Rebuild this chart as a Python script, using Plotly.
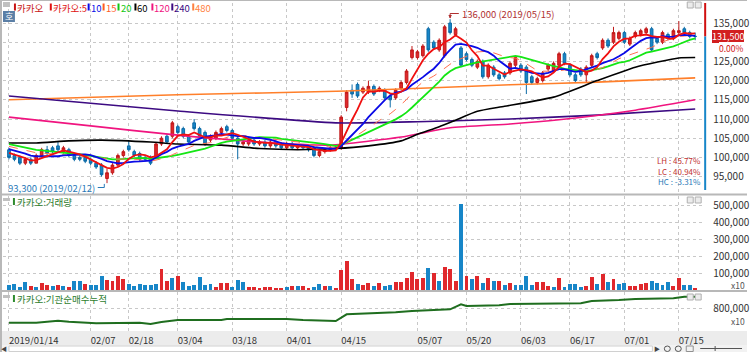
import plotly.graph_objects as go
import pandas as pd
import numpy as np

W, H = 750, 352
def PX(x): return x / W
def PY(y): return 1 - y / H

# ---------------- data ----------------
holidays = ['2019-02-04', '2019-02-05', '2019-02-06', '2019-03-01',
            '2019-05-01', '2019-05-06', '2019-06-06']
dates = [d for d in pd.bdate_range('2019-01-14', '2019-07-18')
         if d.strftime('%Y-%m-%d') not in holidays]

tick_dates = ['2019-01-14', '2019-02-07', '2019-02-18', '2019-03-04', '2019-03-18',
              '2019-04-01', '2019-04-15', '2019-05-07', '2019-05-20', '2019-06-03',
              '2019-06-17', '2019-07-01', '2019-07-15']
tick_text = ['2019/01/14', '02/07', '02/18', '03/04', '03/18', '04/01', '04/15',
             '05/07', '05/20', '06/03', '06/17', '07/01', '07/15']

open_ = [102000, 100500, 100000, 98500, 99500, 98500, 100500, 102000, 102500, 103000,
         101500, 102000, 100500, 100000, 100000, 99500, 98500, 98000, 94500, 96000,
         98000, 100500, 103000, 101500, 101000, 100000, 100000, 100000, 103500, 105500,
         105500, 108000, 107500, 105500, 109000, 107500, 106500, 104500, 105000, 106500,
         108000, 107000, 105000, 103500, 103500, 104500, 103500, 104000, 103000, 104000,
         103500, 102500, 103500, 102500, 103000, 103000, 102500, 100500, 101500, 102000,
         102500, 102500, 113000, 117500, 119000, 117000, 117000, 118500, 117500, 117500,
         116000, 115500, 118000, 119500, 126000, 126000, 126500, 133500, 130000, 128000,
         126500, 135000, 132000, 128500, 127000, 125500, 123500, 125000, 121000, 123500,
         121500, 122000, 122000, 124000, 124000, 123500, 121000, 119500, 120000, 123000,
         122500, 124000, 127000, 124000, 121500, 123000, 121500, 124000, 127000, 128500,
         130500, 130000, 131000, 132500, 129500, 131500, 132000, 132500, 133500, 131000,
         130000, 132000, 131000, 132500, 133500, 132500, 131500]
high = [102500, 101000, 100500, 100000, 100000, 101000, 102500, 103000, 103000, 104000,
        103000, 102500, 101000, 100500, 100500, 100000, 99000, 98500, 97000, 98500,
        101000, 102000, 104500, 102000, 101500, 100500, 100500, 104000, 105500, 106000,
        109500, 108500, 108000, 106000, 110000, 108000, 107000, 106000, 107000, 108000,
        108500, 107500, 105500, 104500, 105000, 105000, 104500, 104500, 104500, 104500,
        104000, 104000, 104000, 103500, 103500, 103500, 103000, 102000, 102500, 103000,
        103000, 111000, 117500, 119000, 119500, 118500, 120000, 119000, 118500, 118000,
        116500, 118000, 120000, 123000, 129000, 128000, 129500, 134000, 130500, 131000,
        134500, 136000, 134000, 129000, 127500, 126000, 125500, 125500, 124500, 124000,
        122000, 122500, 125000, 126500, 124500, 124000, 121500, 121000, 122500, 124500,
        125000, 127500, 127500, 124500, 122000, 123500, 124000, 127000, 127500, 131000,
        131000, 134000, 133000, 133000, 131500, 133000, 133500, 134000, 134000, 131500,
        133000, 132500, 133500, 135500, 134000, 133000, 132500]
low = [99500, 99000, 98000, 98000, 98000, 98500, 100000, 100500, 101000, 101500,
       101000, 100000, 99000, 99000, 98500, 98000, 97000, 95000, 93300, 95500,
       97500, 100000, 101500, 100000, 99000, 99000, 98000, 99500, 103000, 103500,
       105000, 106000, 105000, 103500, 107000, 105000, 103000, 104000, 104500, 106000,
       106500, 104500, 99500, 103000, 103000, 103000, 103000, 102500, 102500, 102500,
       102000, 102000, 102000, 102000, 102000, 101500, 100000, 100000, 101000, 101500,
       102000, 102000, 112000, 115500, 115500, 116500, 116500, 116000, 117000, 115000,
       113000, 115000, 117500, 119000, 125500, 125500, 126000, 127500, 128000, 127500,
       126000, 132000, 131500, 123500, 125000, 123500, 123000, 120500, 120500, 121000,
       120000, 120500, 121500, 123500, 122000, 116500, 119000, 119000, 119500, 122500,
       122000, 123500, 124000, 121000, 119500, 121000, 119500, 123500, 125500, 128000,
       128500, 129500, 130500, 129500, 129000, 131000, 131500, 132000, 127500, 129500,
       129500, 130500, 130500, 132000, 132000, 131000, 130500]
close = [100000, 99500, 98500, 99500, 98500, 100500, 102000, 101000, 101500, 102000,
         102500, 100500, 99500, 99500, 99000, 98500, 97500, 95500, 96000, 98000,
         100500, 101500, 102000, 100500, 99500, 99500, 98500, 103500, 105000, 104000,
         109000, 106500, 105500, 104000, 107500, 105500, 103500, 105500, 106500, 107500,
         107000, 105000, 103500, 104000, 104500, 103500, 104000, 103000, 104000, 103000,
         102500, 103500, 102500, 103000, 102500, 102000, 100500, 101500, 102000, 102500,
         102500, 110500, 117000, 116500, 116000, 118000, 118500, 116500, 118000, 115500,
         115000, 117500, 119500, 122500, 128000, 127500, 129000, 128000, 128500, 130500,
         134000, 132500, 133500, 124000, 125500, 124000, 125000, 121000, 124000, 121500,
         120500, 121000, 124500, 126000, 122500, 119500, 119500, 120500, 122000, 124000,
         124500, 127000, 124500, 121500, 120000, 121500, 123500, 126500, 126000, 130500,
         129000, 132500, 132500, 130000, 131000, 132500, 133000, 133500, 128000, 130000,
         132500, 131000, 133000, 133000, 132500, 131500, 131500]
# closes before the window (read from where the short averages start)
pre_close = [105000, 104500, 105500, 106000, 105000, 104500, 104000, 105000, 104500, 103500,
             103000, 102500, 103500, 104000, 102500, 101500, 101000, 102000, 101500]

# volume (x10 shares) and bar colour flags (1 = red, 0 = blue)
volume_k = [29, 35, 20, 45, 25, 20, 41, 31, 25, 31, 25, 20, 55, 51, 37, 29, 29, 84, 59, 51,
            80, 62, 33, 21, 37, 29, 27, 33, 121, 55, 68, 80, 47, 25, 29, 78, 27, 35, 16, 43,
            43, 18, 59, 47, 20, 20, 12, 20, 16, 12, 12, 18, 21, 25, 21, 10, 18, 35, 25, 21,
            12, 117, 168, 62, 33, 29, 41, 21, 43, 23, 31, 49, 45, 70, 105, 62, 68, 129, 98, 55,
            133, 121, 55, 508, 84, 66, 80, 43, 72, 55, 55, 29, 43, 29, 29, 80, 29, 49, 49, 21,
            18, 68, 18, 33, 33, 16, 25, 76, 33, 92, 49, 66, 33, 41, 25, 25, 33, 43, 55, 43,
            29, 49, 25, 72, 29, 29, 12]
volume_up = [0, 0, 0, 0, 1, 0, 1, 1, 0, 1, 0, 1, 0, 0, 1, 0, 0, 0, 1, 1,
             1, 1, 0, 0, 0, 0, 0, 0, 1, 1, 0, 1, 0, 0, 0, 0, 0, 0, 1, 1,
             1, 0, 0, 0, 1, 1, 1, 1, 1, 1, 1, 0, 1, 0, 1, 1, 0, 0, 1, 0,
             1, 1, 1, 1, 0, 1, 1, 0, 1, 0, 0, 1, 1, 1, 1, 1, 1, 0, 1, 0,
             1, 1, 1, 0, 1, 0, 1, 0, 1, 0, 1, 0, 1, 0, 0, 0, 0, 1, 1, 1,
             0, 1, 0, 0, 0, 0, 1, 1, 0, 1, 0, 1, 0, 0, 1, 1, 1, 1, 0, 0,
             0, 0, 1, 1, 0, 0, 1]

# long moving averages at selected sessions
ma60_idx = [0, 5, 11, 17, 26, 31, 39, 46, 53, 60, 66, 72, 75, 79, 82, 86, 91, 100, 108, 115, 123, 126]
ma60_val = [103750, 103750, 104300, 104500, 104000, 103500, 103200, 102300, 102000, 102300,
            103000, 104300, 106000, 108000, 109700, 112000, 113300, 115700, 120000, 123500, 125900, 126000]
ma120_idx = [0, 15, 31, 46, 59, 72, 81, 92, 101, 115, 126]
ma120_val = [110500, 108200, 105800, 104000, 103200, 105300, 107700, 108700, 109800, 112300, 115000]
ma240_idx = [0, 31, 60, 75, 92, 108, 126]
ma240_val = [116000, 112100, 109000, 109300, 110000, 111000, 112600]
ma480_idx = [0, 31, 62, 92, 108, 126]
ma480_val = [115000, 116300, 117300, 118900, 119600, 120700]

# institution net-buy cumulative (x10), read at selected sessions
inst_idx = [0, 5, 9, 11, 16, 19, 21, 24, 26, 28, 31, 39, 40, 51, 54, 60, 62, 67, 71, 74,
            81, 83, 84, 90, 92, 105, 107, 112, 115, 122, 124, 126]
inst_val = [370000, 370000, 430000, 400000, 350000, 350000, 370000, 370000, 330000, 390000,
            450000, 450000, 480000, 480000, 450000, 420000, 620000, 650000, 680000, 720000,
            770000, 920000, 870000, 890000, 930000, 950000, 1020000, 1050000, 1080000, 1100000,
            1150000, 1150000]

price_ticks = [95000, 100000, 105000, 110000, 115000, 120000, 125000, 130000, 135000]
vol_ticks = [100000, 200000, 300000, 400000, 500000]

# ---------------- derived ----------------
n = len(dates)
x = list(range(n))
date_str = [d.strftime('%Y-%m-%d') for d in dates]
tick_idx = [date_str.index(d) for d in tick_dates]
allc = pd.Series(pre_close + close)
def ma(k):
    return allc.rolling(k).mean().iloc[len(pre_close):].tolist()

RED = '#e0282c'
RED_D = '#c01818'
BLUE = '#1786c8'
BLUE_D = '#0b6aa6'

# price px mapping  (135,000 at y=23px, 5,000 per 19.2px)
def price_at(ypx):
    return 135000 - (ypx - 23) * 5000 / 19.2

XL, XR = 3, 706
xr = [-1.1, -1.1 + (XR - XL) / 5.468]

last = close[-1]
cur_y = 23 + (135000 - last) / 5000 * 19.2
# hide the axis label that the current-price box covers
price_text = ['' if abs(23 + (135000 - v) / 5000 * 19.2 - cur_y) < 10 else f'{v:,}' for v in price_ticks]

fig = go.Figure()

fig.add_trace(go.Candlestick(
    x=x, open=open_, high=high, low=low, close=close,
    increasing=dict(line=dict(color=RED_D, width=1), fillcolor=RED),
    decreasing=dict(line=dict(color=BLUE_D, width=1), fillcolor=BLUE),
    whiskerwidth=0, hoverinfo='skip', xaxis='x', yaxis='y', showlegend=False))

ma_styles = [(480, ma480_idx, ma480_val, '#ff7f2a', 1.6),
             (240, ma240_idx, ma240_val, '#3c0a82', 1.6),
             (120, ma120_idx, ma120_val, '#f0147f', 1.6),
             (60, ma60_idx, ma60_val, '#000000', 1.6)]
for k, xi, yv, col, w in ma_styles:
    fig.add_trace(go.Scatter(x=xi, y=yv, mode='lines',
                             line=dict(color=col, width=w, shape='spline', smoothing=0.5),
                             xaxis='x', yaxis='y', hoverinfo='skip', showlegend=False))
for k, col, w, dash in [(20, '#14e614', 1.8, 'solid'), (15, '#ff7050', 1.0, 'dash'),
                        (10, '#0a0ae6', 1.8, 'solid'), (5, '#f01010', 1.8, 'solid')]:
    fig.add_trace(go.Scatter(x=x, y=ma(k), mode='lines', line=dict(color=col, width=w, dash=dash),
                             xaxis='x', yaxis='y', hoverinfo='skip', showlegend=False))

fig.add_trace(go.Bar(x=x, y=[v * 1000 for v in volume_k],
                     marker=dict(color=[RED if u else BLUE for u in volume_up], line=dict(width=0)),
                     width=0.72, xaxis='x2', yaxis='y2', hoverinfo='skip', showlegend=False))

fig.add_trace(go.Scatter(x=inst_idx, y=inst_val, mode='lines', line=dict(color='#1f6e1f', width=2),
                         xaxis='x3', yaxis='y3', hoverinfo='skip', showlegend=False))

FONT = 'Noto Sans CJK KR'
GRID = '#c8c8c8'
common_x = dict(range=xr, tickvals=tick_idx, showgrid=True, gridcolor=GRID, griddash='dot', gridwidth=1,
                zeroline=False, showline=False, ticks='', fixedrange=True)

vol_top = (290 - 196) / 17 * 100000
fig.update_layout(
    width=W, height=H, margin=dict(l=0, r=0, t=0, b=0),
    paper_bgcolor='#ffffff', plot_bgcolor='#ffffff',
    font=dict(family=FONT, size=9, color='#333333'),
    bargap=0, showlegend=False,
    xaxis=dict(domain=[PX(XL), PX(XR)], anchor='y', showticklabels=False,
               rangeslider=dict(visible=False), **common_x),
    xaxis2=dict(domain=[PX(XL), PX(XR)], anchor='y2', showticklabels=False, matches='x', **common_x),
    xaxis3=dict(domain=[PX(XL), PX(XR)], anchor='y3', showticklabels=True, matches='x',
                ticktext=tick_text, ticklabelposition='outside right', ticklabelstandoff=2,
                tickfont=dict(size=9.5, color='#333333', family=FONT), **common_x),
    yaxis=dict(domain=[PY(193), PY(3)], range=[price_at(193), price_at(3)], side='right',
               tickvals=price_ticks, ticktext=price_text,
               showgrid=True, gridcolor=GRID, griddash='dot', zeroline=False, ticks='',
               ticklabelstandoff=9, tickfont=dict(size=10, color='#333333'), fixedrange=True),
    yaxis2=dict(domain=[PY(290), PY(196)], range=[0, vol_top], side='right',
                tickvals=vol_ticks, ticktext=[f'{v:,}' for v in vol_ticks],
                showgrid=True, gridcolor=GRID, griddash='dot', zeroline=False, ticks='',
                ticklabelstandoff=9, tickfont=dict(size=10, color='#333333'), fixedrange=True),
    yaxis3=dict(domain=[PY(331), PY(292)], range=[120000, 1290000], side='right',
                tickvals=[800000], ticktext=['800,000'],
                showgrid=True, gridcolor=GRID, griddash='dot', zeroline=False, ticks='',
                ticklabelstandoff=9, tickfont=dict(size=10, color='#333333'), fixedrange=True),
)

shapes = []
annos = []
def rect(x0, y0, x1, y1, fill, line=None, layer='above'):
    shapes.append(dict(type='rect', xref='paper', yref='paper', x0=PX(x0), x1=PX(x1), y0=PY(y1), y1=PY(y0),
                       fillcolor=fill, line=dict(width=1 if line else 0, color=line or fill), layer=layer))
def circle(x0, y0, x1, y1, color):
    shapes.append(dict(type='circle', xref='paper', yref='paper', x0=PX(x0), x1=PX(x1), y0=PY(y1), y1=PY(y0),
                       line=dict(width=1, color=color)))
def hline(x0, x1, y, color, w=1):
    shapes.append(dict(type='line', xref='paper', yref='paper', x0=PX(x0), x1=PX(x1), y0=PY(y), y1=PY(y),
                       line=dict(color=color, width=w)))
def vline(x0, y0, y1, color, w=1):
    shapes.append(dict(type='line', xref='paper', yref='paper', x0=PX(x0), x1=PX(x0), y0=PY(y0), y1=PY(y1),
                       line=dict(color=color, width=w)))
def text(x0, y0, s, color, size=9, anchor='left', bg=None, border=None):
    annos.append(dict(xref='paper', yref='paper', x=PX(x0), y=PY(y0), text=s, showarrow=False,
                      xanchor=anchor, yanchor='middle', font=dict(color=color, size=size, family=FONT),
                      bgcolor=bg, bordercolor=border, borderwidth=1 if border else 0, borderpad=0))

# frame / separators / scroll bar
rect(0, 331, 750, 345, '#ececec', layer='below')
rect(0, 345, 750, 352, '#f2f2f2')
rect(9, 346, 655, 351.5, '#ffffff', '#d0d0d0')
text(4, 348.5, '◀', '#444444', 6, 'center')
text(660, 348.5, '▶', '#444444', 6, 'center')
circle(667, 346, 673, 351.5, '#555555')
circle(678, 346, 684, 351.5, '#555555')
rect(689, 346, 696, 351.5, '#f2f2f2', '#909090')
hline(703, 745, 348.5, '#555555', 1)
vline(718, 346, 351, '#555555', 1)
hline(0, 750, 194.5, '#b8b8b8', 2)
hline(0, 750, 291, '#b8b8b8', 2)
vline(1, 0, 352, '#b8b8b8', 2)
hline(0, 750, 0.5, '#b8b8b8', 1)

# price bar at right
hi_i = int(np.argmax(high)); lo_i = int(np.argmin(low))
vline(708, 3, cur_y, '#d01010', 2)
vline(708, cur_y, 190, '#1786c8', 2)
text(747, cur_y - 0.3, f'{last:,}', '#ffffff', 9, 'right', bg='#d21f1f')
chg = (close[-1] - close[-2]) / close[-2] * 100
text(747, cur_y + 11.3, f'{chg:.2f}%', '#d01010', 8.5, 'right', bg='#ffffff')

# legend row
rect(3, 2, 10, 7, '#c0c0c0')
legend = [('카카오', '#c81414', 14), ('카카오:5', '#e01010', 50), ('10', '#0a0ae6', 88),
          ('15', '#ff5a1e', 103), ('20', '#14c814', 118), ('60', '#000000', 135),
          ('120', '#f0147f', 152), ('240', '#3c0a82', 172), ('480', '#ff8040', 193)]
for s, c, xx in legend:
    rect(xx, 3.5, xx + 2, 10.5, c)
    text(xx + 3, 7.5, s, c, 9.5)
rect(3, 11, 15, 22, '#5b7fa6')
text(9, 16.5, '호', '#ffffff', 9, 'center')

# high / low labels
hi_top = price_at(13.5)
shapes.append(dict(type='line', xref='x', yref='y', x0=hi_i, x1=hi_i, y0=hi_top, y1=high[hi_i] + 300,
                   line=dict(color='#b03030', width=1)))
shapes.append(dict(type='line', xref='x', yref='y', x0=hi_i, x1=hi_i + 1.6, y0=hi_top, y1=hi_top,
                   line=dict(color='#b03030', width=1)))
annos.append(dict(xref='x', yref='y', x=hi_i, y=high[hi_i] + 150, ax=0, ay=-3, text='', showarrow=True,
                  arrowhead=2, arrowsize=0.7, arrowwidth=1, arrowcolor='#b03030'))
annos.append(dict(xref='x', yref='y', x=hi_i + 1.8, y=hi_top,
                  text=f'{high[hi_i]:,} ({dates[hi_i].strftime("%Y/%m/%d")})',
                  showarrow=False, xanchor='left', yanchor='middle',
                  font=dict(color='#b03030', size=9.5, family=FONT)))
lo_bot = price_at(187.5)
shapes.append(dict(type='line', xref='x', yref='y', x0=lo_i - 0.5, x1=lo_i - 0.5, y0=lo_bot, y1=low[lo_i] - 200,
                   line=dict(color='#2a7ab8', width=1)))
shapes.append(dict(type='line', xref='x', yref='y', x0=lo_i - 1.7, x1=lo_i - 0.5, y0=lo_bot, y1=lo_bot,
                   line=dict(color='#2a7ab8', width=1)))
annos.append(dict(xref='x', yref='y', x=lo_i - 1.9, y=lo_bot,
                  text=f'{low[lo_i]:,} ({dates[lo_i].strftime("%Y/%m/%d")})',
                  showarrow=False, xanchor='right', yanchor='middle',
                  font=dict(color='#2a7ab8', size=9.5, family=FONT)))

# LH / LC / HC
lh = (max(high) / min(low) - 1) * 100
lc = (last / min(low) - 1) * 100
hc = (last / max(high) - 1) * 100
text(704, 160.5, f'LH : {lh:.2f}%', '#c03030', 8, 'right')
text(704, 171, f'LC : {lc:.2f}%', '#c03030', 8, 'right')
text(704, 181.5, f'HC : {hc:.2f}%', '#2a7ab8', 8, 'right')

# panel titles
for yy, s in [(202, '카카오:거래량'), (299, '카카오:기관순매수누적')]:
    rect(3, yy - 4, 10, yy - 1, '#c0c0c0')
    rect(13, yy - 4, 15, yy + 3, '#2e8b2e')
    text(17, yy, s, '#2e7d2e', 9.5)
for yy in [5, 200, 297]:
    rect(690, yy - 3, 696, yy + 3, '#ececec', '#b0b0b0')
    rect(698, yy - 3, 704, yy + 3, '#ececec', '#b0b0b0')
text(748, 285, 'x10', '#555555', 8.5, 'right')
text(748, 321, 'x10', '#555555', 8.5, 'right')

fig.update_layout(shapes=shapes, annotations=annos)
fig.write_html('out.html')
